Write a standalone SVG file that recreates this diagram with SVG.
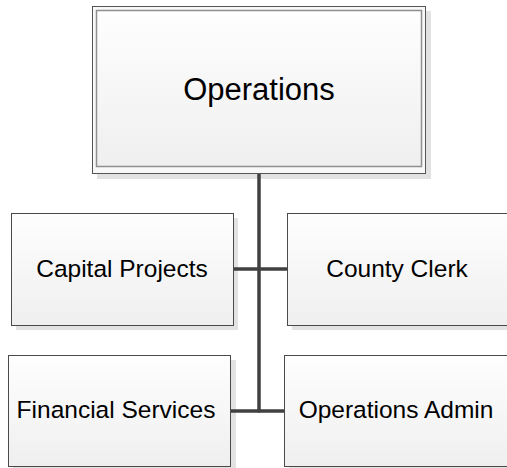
<svg xmlns="http://www.w3.org/2000/svg" width="507" height="468" viewBox="0 0 507 468">
<defs>
<linearGradient id="g" x1="0" y1="0" x2="0" y2="1">
<stop offset="0" stop-color="#fefefe"/>
<stop offset="1" stop-color="#efefef"/>
</linearGradient>
</defs>
<style>
.box{fill:url(#g);stroke:#4a4a4a;stroke-width:1}
.sh{fill:#e2e2e2}
.t{font-family:"Liberation Sans",Arial,sans-serif;fill:#000;text-anchor:middle}
.c{stroke:#404040;stroke-width:3.5;fill:none}
</style>
<g id="operations">
<rect class="sh" x="97" y="11" width="334" height="168"/>
<rect x="92.5" y="6.5" width="333" height="167" fill="#f8f8f8" stroke="#555" stroke-width="1"/>
<rect x="96.5" y="10.5" width="325" height="156" fill="url(#g)" stroke="#8f8f8f" stroke-width="1.5"/>
<text class="t" x="259" y="100" font-size="31">Operations</text>
</g>
<g id="capital-projects">
<rect class="sh" x="16" y="218" width="222" height="112"/>
<rect class="box" x="11.5" y="213.5" width="222" height="112"/>
<text class="t" x="122" y="277" font-size="24.5">Capital Projects</text>
</g>
<g id="county-clerk">
<rect class="sh" x="292" y="218" width="222" height="112"/>
<rect class="box" x="287.5" y="213.5" width="222" height="112"/>
<text class="t" x="397" y="277" font-size="24.5">County Clerk</text>
</g>
<g id="financial-services">
<rect class="sh" x="13" y="360" width="223" height="112"/>
<rect class="box" x="8.5" y="355.5" width="222" height="111"/>
<text class="t" x="116" y="418" font-size="24.5">Financial Services</text>
</g>
<g id="operations-admin">
<rect class="sh" x="289" y="360" width="223" height="112"/>
<rect class="box" x="284.5" y="355.5" width="224" height="111"/>
<text class="t" x="396" y="418" font-size="24.5">Operations Admin</text>
</g>
<g id="connectors">
<line class="c" x1="259" y1="174" x2="259" y2="412.5"/>
<line class="c" x1="234" y1="269" x2="287" y2="269"/>
<line class="c" x1="231" y1="411" x2="284" y2="411"/>
</g>
</svg>
